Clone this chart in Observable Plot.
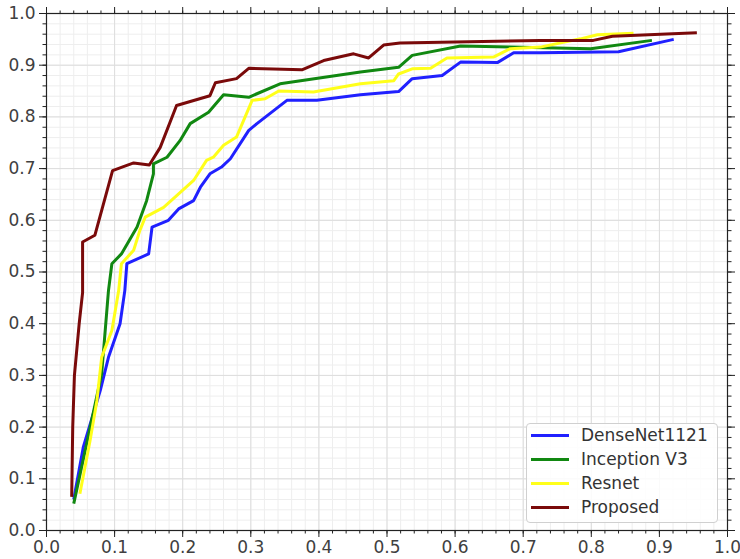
<!DOCTYPE html>
<html>
<head>
<meta charset="utf-8">
<script src="https://cdn.jsdelivr.net/npm/d3@7"></script>
<script src="https://cdn.jsdelivr.net/npm/@observablehq/plot@0.6"></script>
<style>
  html, body { margin: 0; padding: 0; background: white; }
  #wrap { position: relative; width: 740px; height: 559px; }
  #legend {
    position: absolute; left: 526px; top: 423px; width: 190px; height: 98px;
    border: 1px solid #d0d0d0; border-radius: 4px; background: rgba(255,255,255,0.85);
    font-family: "DejaVu Sans", sans-serif; font-size: 17px; color: #333;
  }
  .row { position: absolute; left: 0; height: 24px; display: flex; align-items: center; }
  .sw { width: 38px; height: 3px; margin-left: 4px; margin-right: 12px; }
</style>
</head>
<body>
<div id="wrap"><div id="legend"></div></div>
<script>
const seriesNames = ["DenseNet1121", "Inception V3", "Resnet", "Proposed"];
const seriesColors = ["#2020ff", "#118811", "#ffff1a", "#7a0a0a"];

const denseX = [0.040,0.054,0.079,0.091,0.108,0.115,0.118,0.150,0.155,0.179,0.194,0.216,0.226,0.240,0.257,0.270,0.297,0.309,0.353,0.397,0.461,0.517,0.537,0.581,0.608,0.662,0.686,0.725,0.840,0.921];
const denseY = [0.060,0.161,0.271,0.335,0.400,0.464,0.516,0.535,0.587,0.600,0.622,0.638,0.664,0.690,0.703,0.719,0.774,0.787,0.832,0.832,0.843,0.849,0.874,0.880,0.906,0.905,0.924,0.924,0.926,0.950];

const incX = [0.040,0.081,0.091,0.096,0.110,0.133,0.147,0.157,0.157,0.177,0.196,0.211,0.238,0.260,0.297,0.343,0.461,0.517,0.537,0.608,0.681,0.799,0.889];
const incY = [0.052,0.303,0.464,0.516,0.535,0.587,0.638,0.690,0.709,0.722,0.754,0.787,0.809,0.843,0.838,0.864,0.887,0.896,0.919,0.937,0.935,0.932,0.948];

const resX = [0.049,0.064,0.074,0.081,0.096,0.106,0.110,0.128,0.137,0.145,0.172,0.216,0.235,0.245,0.260,0.279,0.302,0.321,0.341,0.392,0.461,0.510,0.517,0.537,0.564,0.588,0.657,0.681,0.725,0.784,0.809,0.862];
const resY = [0.071,0.174,0.251,0.335,0.387,0.464,0.516,0.542,0.580,0.606,0.625,0.677,0.716,0.722,0.745,0.761,0.832,0.835,0.850,0.848,0.864,0.870,0.883,0.893,0.894,0.914,0.916,0.932,0.935,0.951,0.959,0.962];

const propX = [0.037,0.0385,0.041,0.048,0.053,0.053,0.071,0.097,0.128,0.151,0.167,0.191,0.240,0.248,0.279,0.297,0.375,0.407,0.451,0.473,0.495,0.519,0.600,0.725,0.803,0.831,0.955];
const propY = [0.065,0.200,0.300,0.400,0.460,0.558,0.571,0.696,0.711,0.707,0.741,0.822,0.841,0.866,0.874,0.894,0.891,0.909,0.922,0.914,0.939,0.943,0.945,0.948,0.948,0.956,0.963];

const majorTicks = [0,0.1,0.2,0.3,0.4,0.5,0.6,0.7,0.8,0.9,1.0];
const minorTicks = d3.range(0, 51).map(i => i / 50);

const allX = [denseX, incX, resX, propX];
const allY = [denseY, incY, resY, propY];
const rows = [];
allX.forEach((xs, s) => xs.forEach((x, i) => rows.push({series: seriesNames[s], x, y: allY[s][i]})));

const axisColor = "#222";
function axes(anchorX, anchorY, withText) {
  const out = [];
  for (const a of anchorX) {
    out.push(Plot.axisX(minorTicks, {anchor: a, tickSize: 3.5, stroke: axisColor, fill: "none", label: null}));
    out.push(Plot.axisX(majorTicks, {anchor: a, tickSize: 7, stroke: axisColor, label: null,
      fill: (withText && a === "bottom") ? "#404040" : "none", tickPadding: 3, tickFormat: d3.format(".1f")}));
  }
  for (const a of anchorY) {
    out.push(Plot.axisY(minorTicks, {anchor: a, tickSize: 3.5, stroke: axisColor, fill: "none", label: null}));
    out.push(Plot.axisY(majorTicks, {anchor: a, tickSize: 7, stroke: axisColor, label: null,
      fill: (withText && a === "left") ? "#404040" : "none", tickPadding: 4, tickFormat: d3.format(".1f")}));
  }
  return out;
}

const chart = Plot.plot({
  width: 740,
  height: 559,
  marginLeft: 46,
  marginRight: 13,
  marginTop: 13,
  marginBottom: 29,
  style: {fontFamily: "DejaVu Sans, sans-serif", fontSize: "17px", background: "white", color: "#404040"},
  x: {domain: [0, 1]},
  y: {domain: [0, 1]},
  color: {domain: seriesNames, range: seriesColors},
  marks: [
    Plot.gridX(minorTicks, {stroke: "#eeeeee", strokeOpacity: 1, strokeWidth: 1}),
    Plot.gridY(minorTicks, {stroke: "#eeeeee", strokeOpacity: 1, strokeWidth: 1}),
    Plot.gridX(majorTicks, {stroke: "#dddddd", strokeOpacity: 1, strokeWidth: 1}),
    Plot.gridY(majorTicks, {stroke: "#dddddd", strokeOpacity: 1, strokeWidth: 1}),
    Plot.line(rows, {x: "x", y: "y", z: "series", stroke: "series", strokeWidth: 3, strokeLinejoin: "round", strokeLinecap: "butt"}),
    ...axes(["bottom", "top"], ["left", "right"], true),
    Plot.frame({stroke: axisColor, strokeWidth: 1.2})
  ]
});
const wrap = document.getElementById("wrap");
wrap.insertBefore(chart, wrap.firstChild);

const legend = document.getElementById("legend");
const centers = [11, 35, 59, 83];
seriesNames.forEach((name, i) => {
  const r = document.createElement("div");
  r.className = "row";
  r.style.top = (centers[i] - 12) + "px";
  const sw = document.createElement("div");
  sw.className = "sw";
  sw.style.background = seriesColors[i];
  const t = document.createElement("span");
  t.textContent = name;
  r.appendChild(sw); r.appendChild(t);
  legend.appendChild(r);
});
</script>
</body>
</html>
